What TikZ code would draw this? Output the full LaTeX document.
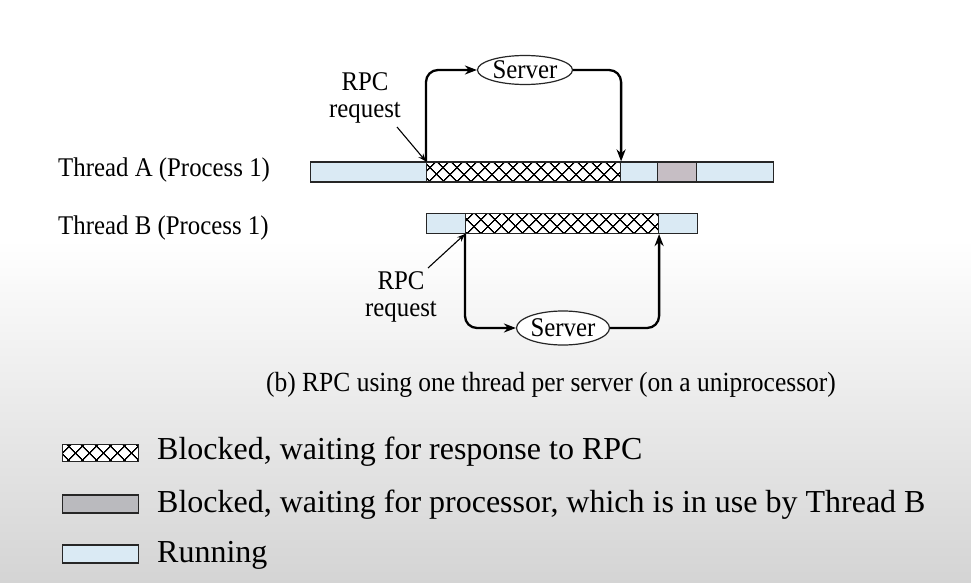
\documentclass[tikz,border=0pt]{standalone}
\usepackage{fontspec}
\setmainfont{Liberation Serif}
\newfontfamily\condfont[FakeStretch=0.92]{Liberation Serif}
\usetikzlibrary{shapes.geometric,arrows.meta,patterns.meta}
\definecolor{runblue}{RGB}{218,234,244}
\definecolor{waitgray}{RGB}{198,190,196}
\definecolor{leggray}{RGB}{186,186,190}
\definecolor{bggray}{RGB}{212,212,212}
\tikzset{
  seg/.style={draw=black!85,line width=1.1pt,rectangle,inner sep=0pt,minimum height=20pt,anchor=west},
  run/.style={seg,fill=runblue},
  wait/.style={seg,fill=waitgray},
  hatch/.style={seg,fill=white,
    postaction={pattern={Lines[angle=45,distance=10.5pt,line width=1.6pt]}},
    postaction={pattern={Lines[angle=-45,distance=10.5pt,line width=1.6pt]}},
    postaction={draw=black!85,line width=1.1pt}},
  server/.style={ellipse,draw=black!85,line width=1.2pt,fill=white,inner sep=0pt},
  conn/.style={line width=2.3pt,rounded corners=12pt,-{Stealth[length=12pt,width=9pt]}},
  pointer/.style={line width=1.1pt,-{Stealth[length=8pt,width=6pt]}},
  lbl/.style={font=\condfont\fontsize{27}{27}\selectfont,inner sep=0pt},
  leg/.style={font=\fontsize{32}{36}\selectfont,inner sep=0pt,anchor=west},
}
\begin{document}
\begin{tikzpicture}[x=1pt,y=-1pt]
\useasboundingbox (0,0) rectangle (971,583);
\fill[white] (0,0) rectangle (971,240);
\shade[top color=white,bottom color=bggray] (0,240) rectangle (971,583);
% Thread A bar
\node[run,minimum width=116pt] (a1) at (310,172) {};
\node[hatch,minimum width=194pt] (a2) at (426,172) {};
\node[run,minimum width=37pt] (a3) at (620,172) {};
\node[wait,minimum width=39pt] (a4) at (657,172) {};
\node[run,minimum width=77pt] (a5) at (696,172) {};
% Thread B bar
\node[run,minimum width=39pt] (b1) at (426,223.5) {};
\node[hatch,minimum width=193pt] (b2) at (465,223.5) {};
\node[run,minimum width=39pt] (b3) at (658,223.5) {};
% labels
\node[lbl,anchor=west] (ta) at (58,170) {Thread A (Process 1)};
\node[lbl,anchor=west] (tb) at (58,228) {Thread B (Process 1)};
% servers
\node[server,minimum width=95pt,minimum height=29pt,lbl] (sa) at (525,70) {Server};
\node[server,minimum width=93pt,minimum height=34pt,lbl] (sb) at (563,328) {Server};
% connectors
\draw[conn] (a2.north west) |- (sa.west);
\draw[conn] (sa.east) -| (a2.north east);
\draw[conn] (b2.south west) |- (sb.west);
\draw[conn] (sb.east) -| (b2.south east);
% RPC request labels
\node[lbl,align=center] (ra) at (365,98) {RPC\\request};
\coordinate (rat) at (397,127);
\draw[pointer] (rat) -- (a2.north west);
\node[lbl,align=center] (rb) at (401,297) {RPC\\request};
\coordinate (rbt) at (428,268);
\draw[pointer] (rbt) -- (b2.south west);
% caption
\node[lbl,font=\condfont\fontsize{27.7}{28}\selectfont] (cap) at (551,385) {(b) RPC using one thread per server (on a uniprocessor)};
% legend
\node[hatch,minimum width=76pt,minimum height=17pt] (l1) at (62,453) {};
\node[seg,fill=leggray,minimum width=76pt,minimum height=18pt] (l2) at (62,504) {};
\node[run,minimum width=76pt,minimum height=18pt] (l3) at (62,554) {};
\node[leg] (t1) at (157,452) {Blocked, waiting for response to RPC};
\node[leg] (t2) at (157,505) {Blocked, waiting for processor, which is in use by Thread B};
\node[leg] (t3) at (157,555) {Running};
\end{tikzpicture}
\end{document}
